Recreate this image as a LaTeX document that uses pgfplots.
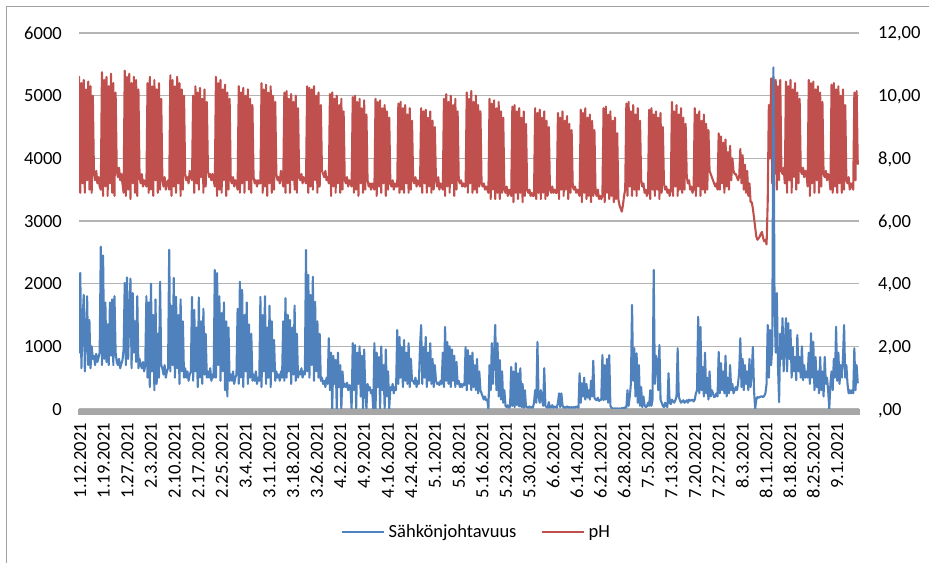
\documentclass[border=0pt]{standalone}
\usepackage{pgfplots}
\pgfplotsset{compat=1.18}
\usepackage{fontspec}
\setmainfont{Carlito}
\definecolor{blueC}{HTML}{4F81BD}
\definecolor{redC}{HTML}{C0504D}
\definecolor{gridC}{HTML}{B4B4B4}
\definecolor{barC}{HTML}{A6A6A6}
\definecolor{frameC}{HTML}{A0A0A0}
\newcommand\fs{\fontsize{18.6}{22}\selectfont}
\pgfplotsset{
  base/.style={
    at={(79bp,154bp)}, anchor=south west, scale only axis,
    width=780bp, height=376bp, xmin=0, xmax=780,
    axis line style={draw=none}, major tick length=0pt, tick style={draw=none},
    ticklabel style={font=\fs, inner sep=0pt, text depth=0pt},
  }
}
\begin{document}
\begin{tikzpicture}[x=1bp,y=1bp]
\useasboundingbox (0,0) rectangle (929,563);
\fill[white] (0,0) rectangle (929,563);
\draw[frameC, line width=1bp] (6.5,-5) -- (6.5,556) -- (935,556);
\begin{axis}[base,
  ymin=0, ymax=6000,
  ytick={0,1000,2000,3000,4000,5000,6000},
  yticklabels={0,1000,2000,3000,4000,5000,6000},
  yticklabel shift=17bp,
  ymajorgrids, grid style={gridC, line width=1.3bp},
  xtick={1,24.66,48.31,71.97,95.62,119.28,142.94,166.59,190.25,213.9,237.56,261.22,284.87,308.53,332.18,355.84,379.5,403.15,426.81,450.46,474.12,497.78,521.43,545.09,568.74,592.4,616.06,639.71,663.37,687.02,710.68,734.34,757.99},
  xticklabels={1.12.2021,1.19.2021,1.27.2021,2.3.2021,2.10.2021,2.17.2021,2.25.2021,3.4.2021,3.11.2021,3.18.2021,3.26.2021,4.2.2021,4.9.2021,4.16.2021,4.24.2021,5.1.2021,5.8.2021,5.16.2021,5.23.2021,5.30.2021,6.6.2021,6.14.2021,6.21.2021,6.28.2021,7.5.2021,7.13.2021,7.20.2021,7.27.2021,8.3.2021,8.11.2021,8.18.2021,8.25.2021,9.1.2021},
  xticklabel style={rotate=90, anchor=east},
  xticklabel shift=14bp,
]
\end{axis}
\begin{axis}[base,
  axis y line*=right, hide x axis,
  ymin=0, ymax=12,
  ytick={0,2,4,6,8,10,12},
  yticklabels={{,00},{2,00},{4,00},{6,00},{8,00},{10,00},{12,00}},
  yticklabel style={anchor=west},
  yticklabel shift=19bp,
  legend columns=2,
  legend image code/.code={\draw[#1, line width=2.2pt] (0bp,0bp) -- (42bp,0bp);},
  legend style={at={(0.508,-0.327)}, anchor=center, draw=none, fill=none,
    font=\fs, inner sep=0pt, outer sep=0pt, nodes={inner sep=0pt},
    /tikz/every odd column/.append style={column sep=4bp},
    /tikz/every even column/.append style={column sep=24bp}},
]
% pH (right axis)
\addplot[redC, line width=2.1pt, line join=round, mark=none, forget plot] table[row sep=\\, header=false, x expr=\coordindex*1.14-1, y index=0] {
7.0\\10.6\\6.9\\10.4\\7.2\\10.5\\6.9\\10.2\\7.3\\10.45\\7.0\\10.3\\6.9\\10.0\\7.5\\7.3\\7.6\\7.2\\7.4\\7.1\\
7.0\\10.75\\6.8\\10.5\\7.1\\10.6\\6.8\\10.3\\7.2\\10.7\\6.9\\10.4\\6.8\\10.1\\7.6\\7.4\\7.7\\7.3\\7.5\\7.2\\
6.9\\10.8\\6.8\\10.6\\7.0\\10.7\\6.7\\10.4\\7.2\\10.6\\6.9\\10.5\\6.8\\10.2\\7.4\\7.2\\7.5\\7.1\\7.3\\7.2\\
7.1\\10.4\\6.9\\10.6\\7.0\\10.3\\6.8\\10.5\\7.3\\10.2\\6.9\\10.4\\7.0\\9.9\\7.3\\7.1\\7.4\\7.0\\7.2\\7.3\\
7.0\\10.65\\6.8\\10.5\\7.1\\10.3\\6.9\\10.6\\7.2\\10.4\\6.8\\10.2\\7.0\\10.0\\7.5\\7.3\\7.4\\7.2\\7.6\\7.4\\
7.3\\10.0\\6.9\\10.3\\7.2\\10.1\\7.0\\10.25\\7.4\\9.9\\6.9\\10.2\\7.1\\9.8\\7.6\\7.4\\7.5\\7.3\\7.5\\7.3\\
7.1\\10.6\\6.8\\10.4\\7.0\\10.5\\6.9\\10.2\\7.3\\10.35\\6.8\\10.1\\7.0\\9.9\\7.3\\7.2\\7.4\\7.1\\7.3\\7.2\\
7.0\\10.3\\6.9\\10.1\\7.2\\10.25\\6.9\\10.0\\7.3\\10.2\\7.0\\9.9\\6.9\\9.7\\7.4\\7.2\\7.3\\7.1\\7.3\\7.2\\
7.2\\10.4\\6.9\\10.2\\7.1\\10.35\\6.8\\10.1\\7.2\\10.3\\6.9\\10.0\\7.0\\9.8\\7.5\\7.3\\7.4\\7.2\\7.6\\7.4\\
7.1\\10.1\\6.9\\10.15\\7.2\\9.9\\6.9\\10.05\\7.3\\9.8\\7.0\\10.0\\6.9\\9.6\\7.4\\7.3\\7.5\\7.2\\7.4\\7.3\\
7.2\\10.3\\6.9\\10.25\\7.1\\10.2\\7.0\\10.3\\7.3\\10.0\\6.9\\10.1\\7.1\\9.7\\7.6\\7.5\\7.4\\7.6\\7.3\\7.4\\
7.2\\10.05\\6.8\\10.1\\7.1\\9.9\\6.9\\10.0\\7.2\\9.7\\6.9\\9.9\\7.0\\9.5\\7.3\\7.2\\7.4\\7.1\\7.3\\7.2\\
7.1\\9.95\\6.9\\10.0\\7.0\\9.8\\6.8\\9.9\\7.2\\9.6\\6.9\\9.85\\7.0\\9.4\\7.3\\7.1\\7.2\\7.0\\7.2\\7.1\\
7.0\\9.9\\6.8\\9.8\\7.1\\9.85\\6.9\\9.6\\7.2\\9.7\\6.8\\9.5\\7.0\\9.3\\7.2\\7.1\\7.3\\7.0\\7.2\\7.1\\
7.1\\9.75\\6.9\\9.8\\7.0\\9.6\\6.9\\9.7\\7.2\\9.4\\6.9\\9.6\\7.0\\9.2\\7.3\\7.2\\7.4\\7.1\\7.3\\7.2\\
7.1\\9.6\\6.9\\9.5\\7.2\\9.55\\6.9\\9.3\\7.1\\9.5\\6.9\\9.2\\7.0\\9.0\\7.3\\7.1\\7.4\\7.0\\7.2\\7.1\\
7.0\\9.9\\6.8\\10.05\\7.1\\9.8\\6.9\\10.0\\7.2\\9.7\\6.8\\9.9\\7.0\\9.5\\7.3\\7.2\\7.3\\7.1\\7.2\\7.1\\
7.1\\10.1\\6.9\\9.9\\7.2\\10.15\\6.9\\9.8\\7.0\\10.0\\6.9\\9.7\\7.1\\9.5\\7.2\\7.1\\7.2\\7.0\\7.1\\7.0\\
6.9\\9.9\\6.7\\9.75\\7.0\\9.85\\6.7\\9.6\\6.9\\9.8\\6.7\\9.5\\6.9\\9.3\\7.0\\6.9\\7.1\\6.8\\7.0\\6.9\\
6.8\\9.65\\6.6\\9.7\\6.9\\9.5\\6.7\\9.6\\6.9\\9.3\\6.6\\9.5\\6.8\\9.1\\7.0\\6.9\\7.0\\6.8\\6.9\\6.8\\
6.8\\9.6\\6.7\\9.45\\6.9\\9.55\\6.7\\9.3\\6.9\\9.5\\6.7\\9.2\\6.8\\9.0\\7.0\\6.9\\7.1\\6.9\\7.0\\6.9\\
6.9\\9.45\\6.7\\9.3\\7.0\\9.5\\6.8\\9.2\\7.0\\9.35\\6.7\\9.1\\6.9\\8.9\\7.1\\7.0\\7.1\\6.9\\7.0\\6.9\\
6.8\\9.55\\6.6\\9.45\\6.9\\9.6\\6.7\\9.3\\6.8\\9.4\\6.6\\9.2\\6.8\\8.9\\6.9\\6.8\\7.0\\6.7\\6.8\\6.7\\
6.8\\9.6\\6.6\\9.65\\6.9\\9.4\\6.7\\9.5\\6.8\\9.2\\6.6\\9.3\\6.7\\8.8\\6.7\\6.5\\6.4\\6.3\\6.5\\6.8\\
7.0\\9.75\\6.8\\9.8\\7.1\\9.5\\6.8\\9.7\\7.0\\9.4\\6.8\\9.6\\7.0\\9.2\\7.3\\7.1\\7.2\\6.9\\7.0\\6.8\\
6.9\\9.55\\6.7\\9.6\\7.0\\9.4\\6.8\\9.5\\7.0\\9.3\\6.7\\9.45\\6.9\\9.0\\7.2\\7.0\\7.1\\6.9\\7.0\\6.8\\
7.0\\9.8\\6.8\\9.5\\7.1\\9.7\\6.8\\9.4\\7.0\\9.6\\6.9\\9.3\\7.0\\9.1\\7.4\\7.2\\7.3\\7.0\\7.1\\6.9\\
7.0\\9.6\\6.8\\9.4\\7.1\\9.5\\6.8\\9.2\\7.0\\9.4\\6.9\\9.1\\7.0\\8.9\\7.6\\7.5\\7.4\\7.3\\7.2\\7.1\\
7.2\\7.0\\8.8\\7.0\\8.7\\7.2\\8.5\\6.9\\8.6\\7.1\\8.2\\7.0\\8.4\\7.3\\8.0\\7.6\\7.5\\7.5\\7.4\\7.3\\
7.4\\8.3\\7.2\\8.1\\7.0\\7.8\\6.9\\7.6\\6.8\\7.2\\6.6\\6.6\\6.4\\6.1\\5.8\\5.5\\5.4\\5.45\\5.5\\5.6\\
5.65\\5.45\\5.35\\5.4\\5.25\\6.6\\9.7\\8.0\\10.55\\7.2\\10.6\\7.5\\10.5\\7.0\\10.3\\7.3\\10.5\\7.6\\7.5\\7.7\\
7.2\\10.45\\6.9\\10.3\\7.3\\10.5\\6.9\\10.2\\7.4\\10.4\\7.0\\10.1\\7.2\\9.9\\7.6\\7.5\\7.7\\7.4\\7.6\\7.5\\
7.1\\10.5\\6.8\\10.4\\7.2\\10.45\\6.9\\10.2\\7.3\\10.3\\6.9\\10.1\\7.1\\9.8\\7.5\\7.4\\7.6\\7.3\\7.5\\7.4\\
7.0\\10.35\\6.9\\10.4\\7.1\\10.2\\6.9\\10.3\\7.2\\10.0\\6.9\\10.2\\7.0\\9.7\\7.3\\7.2\\7.4\\7.0\\7.2\\7.1\\
7.0\\10.1\\7.3\\10.15\\7.8\\
};
% conductivity (left axis 0..6000, drawn here on the 0..12 scale: value/500)
\addplot[blueC, line width=2.1pt, line join=round, mark=none, forget plot] table[row sep=\\, header=false, x expr=\coordindex*1.14-1, y expr=\thisrowno{0}/500] {
1450\\900\\2170\\650\\1400\\1820\\600\\1100\\1800\\700\\1420\\650\\1000\\800\\850\\700\\880\\750\\820\\900\\
2590\\700\\2450\\800\\1700\\750\\1350\\700\\1700\\850\\1750\\700\\1800\\900\\750\\700\\800\\650\\720\\780\\
950\\2010\\700\\2100\\800\\1500\\2080\\650\\1850\\900\\1400\\750\\1800\\650\\800\\700\\650\\750\\600\\700\\
1800\\500\\1700\\350\\2000\\600\\1500\\300\\1750\\400\\1200\\500\\2030\\700\\650\\550\\700\\500\\600\\650\\
2540\\600\\1650\\700\\2090\\500\\1790\\650\\1500\\400\\1750\\600\\1400\\500\\650\\500\\600\\450\\550\\600\\
1790\\450\\1580\\600\\1300\\350\\1780\\500\\1400\\400\\1600\\550\\1200\\500\\600\\500\\650\\450\\550\\500\\
2220\\500\\2170\\700\\1800\\450\\1530\\600\\1700\\300\\1400\\200\\1300\\450\\550\\450\\600\\400\\500\\550\\
1600\\400\\2030\\500\\1900\\350\\1500\\600\\1700\\400\\1350\\500\\1200\\450\\550\\450\\600\\400\\500\\450\\
1790\\350\\1500\\600\\1800\\400\\1300\\500\\1650\\350\\1400\\600\\1100\\450\\600\\500\\550\\450\\600\\500\\
1400\\450\\1770\\500\\1500\\600\\1420\\400\\1300\\550\\1650\\450\\1200\\500\\600\\550\\650\\500\\600\\550\\
2540\\600\\2140\\500\\1820\\700\\2110\\450\\1710\\600\\1400\\500\\1200\\450\\500\\400\\450\\350\\500\\400\\
1130\\300\\900\\0\\850\\400\\780\\0\\900\\350\\700\\0\\600\\350\\400\\350\\420\\300\\380\\350\\
0\\1050\\300\\1020\\0\\900\\400\\1000\\200\\850\\0\\950\\300\\0\\400\\300\\350\\250\\300\\0\\
1050\\0\\900\\350\\830\\0\\1000\\300\\700\\0\\950\\200\\600\\0\\350\\300\\400\\250\\350\\300\\
1260\\400\\1150\\500\\990\\350\\1100\\450\\900\\400\\1050\\350\\800\\450\\450\\400\\500\\350\\450\\400\\
1000\\1340\\400\\990\\500\\1150\\350\\900\\450\\1050\\400\\800\\350\\700\\450\\400\\420\\380\\450\\400\\
900\\350\\1310\\450\\1070\\400\\1000\\350\\950\\450\\850\\350\\750\\400\\450\\350\\400\\350\\400\\380\\
990\\300\\940\\400\\850\\300\\900\\350\\700\\300\\800\\250\\600\\300\\250\\200\\150\\200\\140\\150\\
0\\700\\300\\1050\\400\\900\\1340\\300\\1050\\200\\780\\150\\600\\100\\300\\50\\30\\60\\20\\40\\
670\\50\\600\\30\\730\\60\\570\\40\\650\\30\\400\\20\\300\\30\\30\\20\\40\\20\\30\\20\\
100\\300\\100\\1070\\200\\100\\300\\150\\50\\650\\50\\30\\20\\110\\20\\30\\60\\20\\40\\30\\
20\\100\\250\\30\\250\\60\\20\\30\\20\\40\\20\\30\\20\\30\\20\\30\\20\\40\\30\\20\\
570\\100\\410\\200\\500\\150\\400\\180\\300\\150\\450\\200\\770\\180\\150\\140\\180\\130\\140\\150\\
860\\140\\700\\150\\800\\100\\860\\50\\20\\10\\0\\10\\0\\10\\0\\10\\0\\10\\20\\0\\
30\\20\\300\\50\\200\\400\\1660\\450\\970\\200\\890\\100\\700\\50\\350\\30\\200\\60\\30\\40\\
100\\50\\300\\50\\150\\2220\\400\\850\\780\\300\\1020\\150\\100\\50\\30\\100\\50\\30\\570\\100\\
80\\150\\120\\100\\140\\200\\970\\200\\140\\100\\120\\140\\100\\120\\140\\100\\150\\130\\140\\150\\
120\\150\\250\\300\\1470\\250\\1310\\300\\670\\200\\900\\250\\500\\150\\600\\200\\300\\250\\190\\200\\
250\\200\\910\\250\\730\\300\\600\\250\\850\\200\\500\\250\\700\\300\\400\\250\\300\\350\\300\\400\\
600\\1130\\350\\800\\300\\700\\400\\600\\300\\800\\350\\600\\990\\300\\0\\150\\190\\180\\190\\200\\
200\\190\\210\\250\\400\\1340\\500\\1260\\700\\1000\\5450\\1630\\900\\1850\\700\\110\\1200\\800\\1450\\600\\
1000\\1450\\600\\1370\\800\\1260\\500\\990\\600\\830\\460\\1180\\600\\830\\500\\1000\\460\\700\\500\\600\\
500\\900\\400\\1210\\500\\1070\\300\\830\\350\\600\\250\\830\\300\\600\\200\\830\\400\\500\\300\\0\\
400\\600\\300\\800\\500\\1310\\450\\900\\400\\700\\500\\800\\1340\\500\\700\\400\\250\\300\\250\\300\\
250\\970\\300\\700\\410\\
};
\addlegendimage{blueC}
\addlegendentry{Sähkönjohtavuus}
\addlegendimage{redC}
\addlegendentry{pH}
\end{axis}
\fill[barC] (78,148) rectangle (860,154);
\end{tikzpicture}
\end{document}
